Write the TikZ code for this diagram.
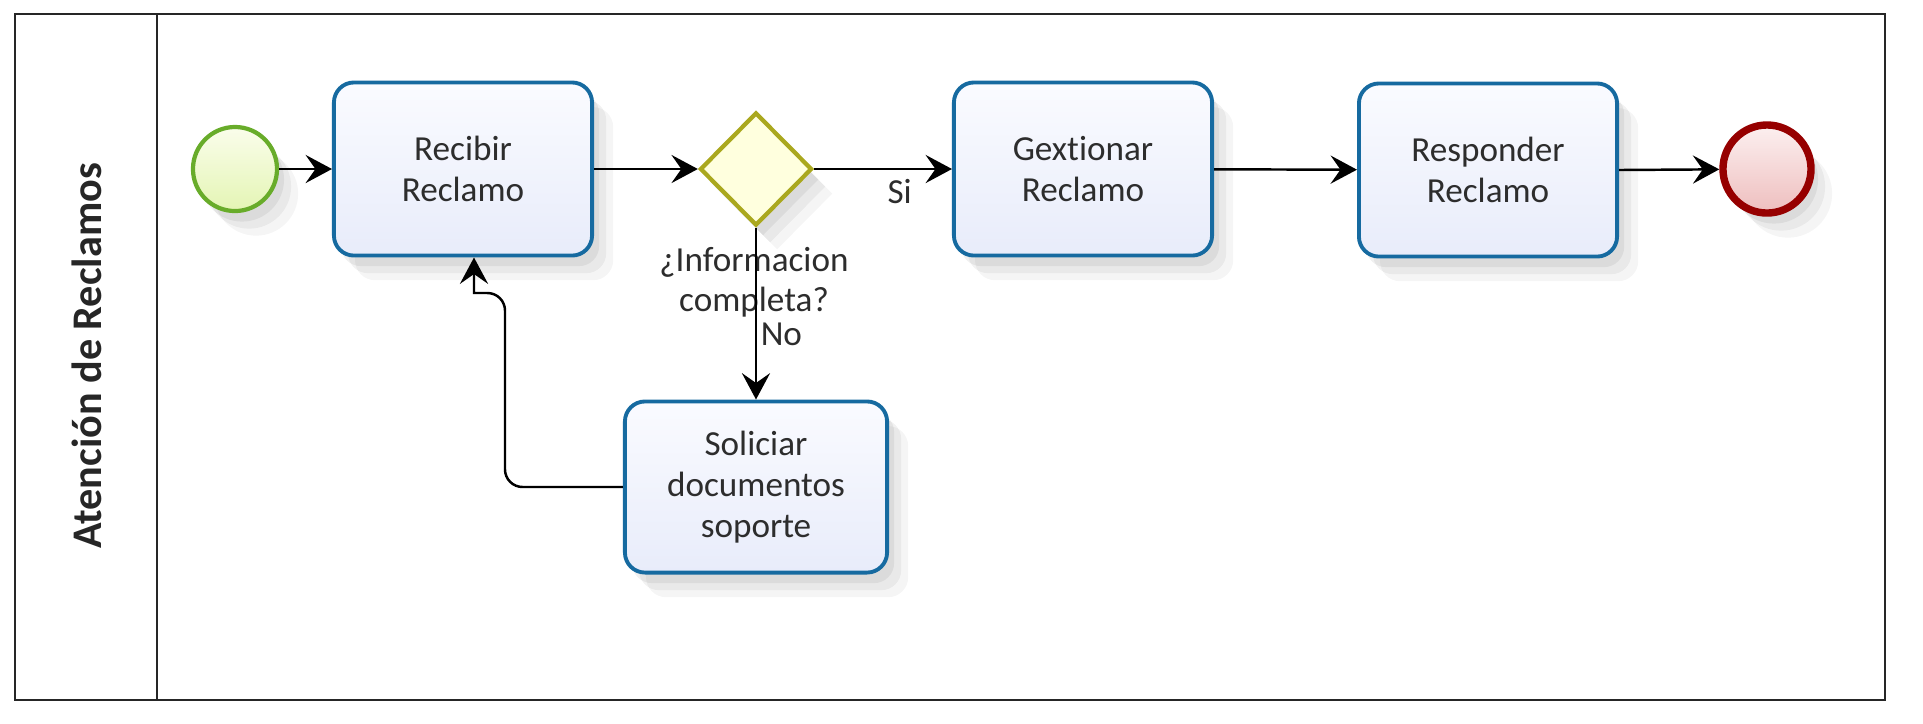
\documentclass[tikz,border=0pt]{standalone}
\usepackage{fontspec}
\setmainfont{Carlito}[Ligatures={NoCommon}]
\usetikzlibrary{arrows.meta,shapes.geometric,shadows}
\definecolor{taskborder}{RGB}{22,106,160}
\definecolor{taskfilltop}{RGB}{250,251,255}
\definecolor{taskfillbot}{RGB}{232,236,250}
\definecolor{startborder}{RGB}{104,172,42}
\definecolor{startfilltop}{RGB}{250,253,235}
\definecolor{startfillbot}{RGB}{228,245,180}
\definecolor{gwborder}{RGB}{170,168,30}
\definecolor{gwfill}{RGB}{255,255,222}
\definecolor{endborder}{RGB}{150,0,0}
\definecolor{endfilltop}{RGB}{252,240,240}
\definecolor{endfillbot}{RGB}{238,190,190}
\definecolor{textgray}{RGB}{45,45,45}
\begin{document}
\begin{tikzpicture}[x=0.01cm,y=-0.01cm,
  softshadow/.style={
    drop shadow={shadow xshift=2pt,shadow yshift=-3pt,opacity=0.06,fill=black},
    drop shadow={shadow xshift=4pt,shadow yshift=-5pt,opacity=0.05,fill=black},
    drop shadow={shadow xshift=6pt,shadow yshift=-7pt,opacity=0.04,fill=black}},
  task/.style={draw=taskborder,line width=1.1pt,rounded corners=0.2cm,
    top color=taskfilltop,bottom color=taskfillbot,
    minimum width=2.58cm,minimum height=1.73cm,align=center,text=textgray,
    font=\fontsize{10}{11.6}\selectfont,inner sep=2pt,softshadow},
  startev/.style={circle,draw=startborder,line width=1.2pt,top color=startfilltop,
    bottom color=startfillbot,minimum size=0.84cm,inner sep=0pt,softshadow},
  endev/.style={circle,draw=endborder,line width=2.1pt,top color=endfilltop,
    bottom color=endfillbot,minimum size=0.88cm,inner sep=0pt,softshadow},
  gateway/.style={diamond,aspect=1,draw=gwborder,line width=1.2pt,fill=gwfill,
    minimum width=1.12cm,minimum height=1.13cm,inner sep=0pt,softshadow},
  flow/.style={draw=black,line width=0.7pt,-{Stealth[length=7.5pt,width=8pt,inset=2.8pt]}},
  lbl/.style={text=textgray,font=\fontsize{10}{11.4}\selectfont,inner sep=1.5pt},
  poolline/.style={draw=black!85,line width=0.8pt},
  lanelabel/.style={text=black!85,font=\fontsize{12}{14}\selectfont\bfseries}
]
\useasboundingbox (0,0) rectangle (1923,723);
% pool
\draw[poolline] (15,14) rectangle (1885,700);
\draw[poolline] (157,14) -- (157,700);
\node[lanelabel,rotate=90] (lane) at (87,356) {Atención de Reclamos};
% nodes
\node[startev] (start) at (235,169) {};
\node[task] (recibir) at (463,169) {Recibir\\Reclamo};
\node[gateway] (gw) at (756,169) {};
\node[task] (gest) at (1083,169) {Gextionar\\Reclamo};
\node[task] (resp) at (1488,170) {Responder\\Reclamo};
\node[endev] (endn) at (1767,169) {};
\node[task,minimum width=2.62cm,minimum height=1.71cm] (sol) at (756,487) {Soliciar\\documentos\\soporte};
\node[lbl,align=center,inner sep=0pt] (gwl) at (754,282) {¿Informacion\\completa?};
% flows
\draw[flow] (start) -- (recibir);
\draw[flow] (recibir) -- (gw);
\draw[flow] (gw) -- node[lbl,pos=0.62,below,yshift=-1pt] (si) {Si} (gest);
\draw[flow] (gest) -- (resp);
\draw[flow] (resp.east) -- (endn);
\draw[flow] (gw.south) -- node[lbl,pos=0.62,right,inner sep=1pt] (no) {No} (sol.north);
\coordinate (lpA) at (505,293);
\draw[flow] (sol.west) [rounded corners=5pt] -| (lpA) [sharp corners] -| ([xshift=0.11cm]recibir.south);
\end{tikzpicture}
\end{document}
